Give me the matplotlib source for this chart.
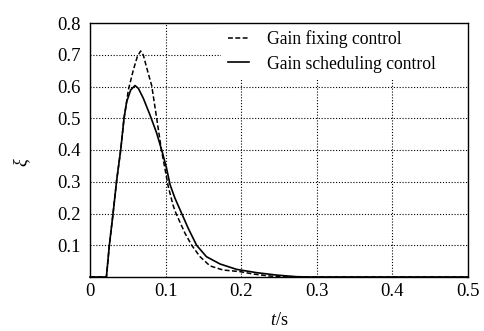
import matplotlib
matplotlib.use("Agg")
import matplotlib.pyplot as plt

# Gain fixing control (dashed)
t_fix = [0.0, 0.0217, 0.0256, 0.0305, 0.0353, 0.0406, 0.045, 0.0485, 0.0507, 0.0573,
         0.0626, 0.067, 0.0705, 0.0758, 0.0816, 0.0882, 0.0945, 0.100, 0.1035,
         0.110, 0.1138, 0.1257, 0.1345, 0.1455, 0.1587, 0.176, 0.198, 0.216,
         0.238, 0.256, 0.27, 0.5]
y_fix = [0.0, 0.0, 0.1, 0.2, 0.305, 0.4, 0.5, 0.552, 0.589, 0.652,
         0.694, 0.712, 0.699, 0.652, 0.603, 0.5, 0.4, 0.33, 0.285,
         0.225, 0.2, 0.1376, 0.1, 0.064, 0.035, 0.022, 0.017, 0.0094,
         0.003, 0.001, 0.0, 0.0]

# Gain scheduling control (solid)
t_sch = [0.0, 0.0217, 0.0256, 0.0305, 0.0353, 0.0406, 0.045, 0.0485, 0.0538, 0.0595,
         0.064, 0.0705, 0.0794, 0.0882, 0.096, 0.101, 0.106, 0.1124, 0.1213,
         0.130, 0.141, 0.154, 0.172, 0.194, 0.2205, 0.247, 0.273, 0.29, 0.5]
y_sch = [0.0, 0.0, 0.1, 0.2, 0.305, 0.4, 0.5, 0.552, 0.589, 0.603,
         0.594, 0.563, 0.51, 0.453, 0.39, 0.345, 0.29, 0.248, 0.2,
         0.153, 0.1, 0.064, 0.041, 0.024, 0.0136, 0.006, 0.001, 0.0, 0.0]

x_ticks = [0, 0.1, 0.2, 0.3, 0.4, 0.5]
x_ticklabels = ["0", "0.1", "0.2", "0.3", "0.4", "0.5"]
y_ticks = [0.1, 0.2, 0.3, 0.4, 0.5, 0.6, 0.7, 0.8]
y_ticklabels = ["0.1", "0.2", "0.3", "0.4", "0.5", "0.6", "0.7", "0.8"]

plt.rcParams['font.family'] = ['Liberation Serif', 'DejaVu Serif']
plt.rcParams['mathtext.fontset'] = 'custom'
plt.rcParams['mathtext.rm'] = 'Liberation Serif'
plt.rcParams['mathtext.it'] = 'Liberation Serif:italic'

fig = plt.figure(figsize=(4.84, 3.31), dpi=100)
ax = fig.add_axes([90/484, 1-277/331, (468-90)/484, (277-23)/331])

ax.plot(t_fix, y_fix, color='black', lw=1.1, ls=(0, (3.2, 1.6)),
        label='Gain fixing control', clip_on=False, zorder=3)
ax.plot(t_sch, y_sch, color='black', lw=1.2, ls='-',
        label='Gain scheduling control', clip_on=False, zorder=3)

ax.set_xlim(0, 0.5)
ax.set_ylim(0, 0.8)
ax.set_xticks(x_ticks)
ax.set_xticklabels(x_ticklabels)
ax.set_yticks(y_ticks)
ax.set_yticklabels(y_ticklabels)
ax.tick_params(length=0, labelsize=13.5)
ax.tick_params(axis='x', pad=4)
ax.tick_params(axis='y', pad=7)
ax.grid(True, color='black', ls=(0, (1, 1.6)), lw=0.8)
for s in ax.spines.values():
    s.set_linewidth(1.0)
    s.set_color('black')
    s.set_zorder(10)

ax.set_ylabel('ξ', fontsize=13, fontstyle='italic')
ax.yaxis.set_label_coords(-0.16, 0.453)
ax.set_xlabel('$t$/s', fontsize=13)
ax.xaxis.set_label_coords(0.5, -0.138)

x0 = (221-90)/378
leg = ax.legend(loc='upper left', bbox_to_anchor=(x0, 0.0, 1.0 - x0, 1.0), mode='expand',
                fontsize=12.7,
                frameon=True, framealpha=1, facecolor='white', edgecolor='none',
                fancybox=False, handlelength=1.2, handletextpad=1.0,
                labelspacing=0.42, borderpad=0.41, borderaxespad=0.0)
leg.set_zorder(5)

fig.savefig('out.png', dpi=100)
